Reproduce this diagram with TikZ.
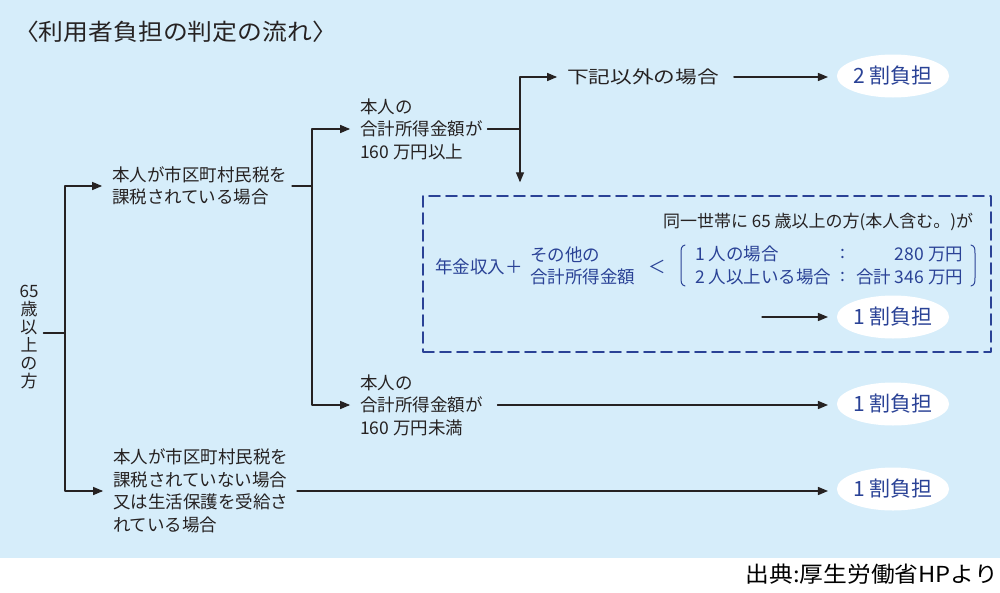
\documentclass[tikz,border=0pt]{standalone}
\usepackage{fontspec}
\setmainfont{Noto Sans CJK JP}
\newfontfamily\widefont[FakeStretch=1.24]{Noto Sans CJK JP}
\newfontfamily\halfwide[FakeStretch=1.08]{Noto Sans CJK JP}
\usetikzlibrary{arrows}
\usetikzlibrary{shapes.geometric}
\definecolor{bgblue}{RGB}{214,237,250}
\definecolor{inkgray}{RGB}{38,34,34}
\definecolor{navy}{RGB}{42,66,150}
\newcommand{\setfs}[2]{\fontsize{#1}{#2}\selectfont}
\tikzset{
  flow/.style={line width=1.3pt,color=inkgray},
  totext/.style={flow,->,shorten >=5pt},
  note/.style={inner sep=0pt,outer xsep=5pt,anchor=west,align=left,text=inkgray,font=\setfs{17.5}{22.5}},
  bluenote/.style={note,text=navy},
  share/.style={ellipse,fill=white,minimum width=111pt,minimum height=43pt,inner sep=0pt,outer sep=9pt,text=navy,font=\setfs{21}{21}},
  dashbox/.style={draw=navy,line width=1.6pt,dash pattern=on 11pt off 6pt,minimum width=568pt,minimum height=156pt,inner sep=0pt}
}
\begin{document}
\begin{tikzpicture}[line cap=round,line join=round,>=triangle 45,x=1pt,y=-1pt]
  \useasboundingbox (0,0) rectangle (1000,592);
  \fill[bgblue] (0,0) rectangle (1000,558);
  \node[note,font=\halfwide\setfs{23}{23},outer sep=0pt] (title) at (14,32) {〈利用者負担の判定の流れ〉};
  % columns of the tree
  \coordinate (trunk) at (65,333);
  \coordinate (col2) at (312,0);
  \coordinate (col3) at (520,0);
  % conditions
  \node[note,anchor=center,align=center,font=\setfs{17}{18}] (age) at (29,337) {65\\歳\\以\\上\\の\\方};
  \node[note] (taxed) at (107,186) {本人が市区町村民税を\\課税されている場合};
  \node[note] (untaxed) at (108,491) {本人が市区町村民税を\\課税されていない場合\\又は生活保護を受給さ\\れている場合};
  \node[note] (high) at (355,129) {本人の\\合計所得金額が\\160 万円以上};
  \node[note] (low) at (355,405) {本人の\\合計所得金額が\\160 万円未満};
  \node[note,font=\widefont\setfs{17.5}{22.5}] (other) at (562,77) {下記以外の場合};
  % household box
  \node[dashbox] (box) at (707,274) {};
  \node[note,anchor=east,font=\setfs{17}{22}] (cond) at (978,222) {同一世帯に 65 歳以上の方(本人含む。)が};
  \node[bluenote] (pension) at (430,267) {年金収入＋};
  \node[bluenote] (others) at (525,266) {その他の\\合計所得金額};
  \node[bluenote,anchor=center] (lt) at (657,267) {＜};
  \node[bluenote] (single) at (690,254) {1 人の場合};
  \node[bluenote] (multi) at (690,277) {2 人以上いる場合};
  \node[bluenote,anchor=center] (colA) at (843,254) {:};
  \node[bluenote,anchor=center] (colB) at (843,277) {:};
  \node[bluenote,anchor=east] (amtA) at (968,254) {280 万円};
  \node[bluenote,anchor=east] (amtB) at (968,277) {合計 346 万円};
  \draw[navy,line width=1pt] (685,245) .. controls (681,246) and (681,249) .. (681,254) -- (681,277) .. controls (681,282) and (681,285) .. (685,286);
  \draw[navy,line width=1pt] (971,245) .. controls (975,246) and (975,249) .. (975,254) -- (975,277) .. controls (975,282) and (975,285) .. (971,286);
  \coordinate (inbox) at (762,317);
  % results
  \node[share] (two) at (893,76) {2 割負担};
  \node[share] (oneA) at (893,317) {1 割負担};
  \node[share] (oneB) at (893,404) {1 割負担};
  \node[share] (oneC) at (893,489) {1 割負担};
  % connectors
  \draw[flow] (age.east |- trunk) -- (trunk);
  \draw[totext] (trunk) |- (taxed.west);
  \draw[totext] (trunk) |- (untaxed.west);
  \draw[flow] (taxed.east) -- (taxed.east -| col2) coordinate (split2);
  \draw[totext] (split2) |- (high.west);
  \draw[totext] (split2) |- (low.west);
  \draw[flow] (high.east) -- (high.east -| col3) coordinate (split3);
  \draw[totext] (split3) |- (other.west);
  \draw[flow,->,shorten >=13pt] (split3) -- (split3 |- box.north);
  \draw[flow,->,shorten <=10pt] (other.east) -- (other.east -| two.west);
  \draw[flow,->] (inbox) -- (oneA.west);
  \draw[flow,->,shorten <=10pt] (low.east) -- (low.east -| oneB.west);
  \draw[flow,->,shorten <=4pt] (untaxed.east) -- (untaxed.east -| oneC.west);
  \node[note,anchor=east,text=black,font=\halfwide\setfs{22}{22}] (src) at (1003,574) {出典:厚生労働省HPより};
\end{tikzpicture}
\end{document}
